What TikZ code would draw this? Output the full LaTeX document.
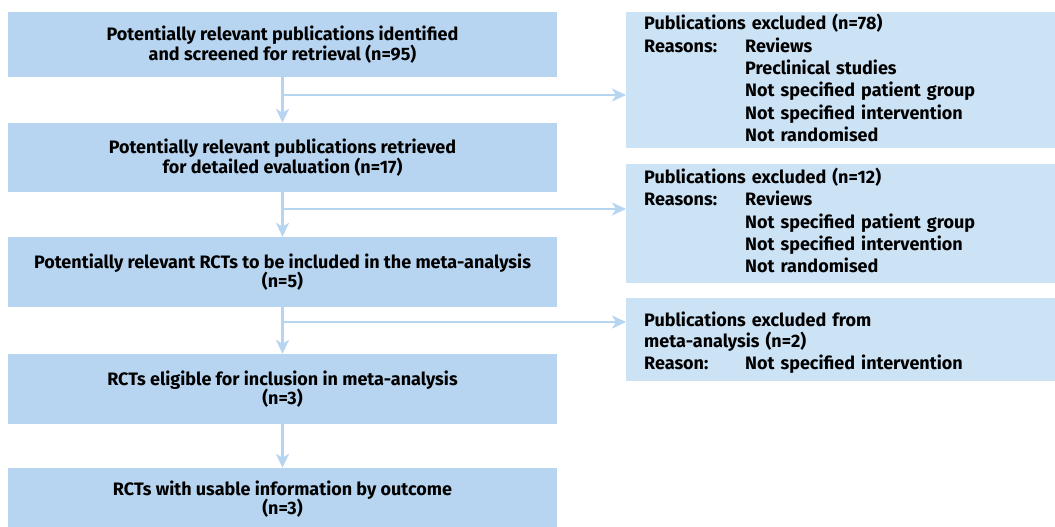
\documentclass[tikz,border=0pt]{standalone}
\usepackage{fontspec}
\setmainfont{Fira Sans}
\usepackage{tikz}
\usetikzlibrary{arrows.meta, positioning}
\definecolor{stepblue}{HTML}{B7D5F0}
\definecolor{exblue}{HTML}{CCE2F5}

\begin{document}
\begin{tikzpicture}[x=1pt, y=-1pt,
    stepbox/.style={fill=stepblue, minimum width=549pt, inner sep=0pt, align=center,
        font=\bfseries\fontsize{18}{19.5}\selectfont},
    exbox/.style={fill=exblue, anchor=north west, minimum width=429pt, text width=393pt,
        inner xsep=18pt, inner ysep=0pt, align=left,
        font=\bfseries\fontsize{18}{22.3}\selectfont},
    arr/.style={draw=stepblue, line width=2.5pt, -{Stealth[length=14pt, width=13pt, inset=4pt]}}]
    \useasboundingbox (0,0) rectangle (1055,527);

    % 1. Main steps
    \node[stepbox, minimum height=65pt] (s1) at (282.5,44.5)
        {Potentially relevant publications identified\\and screened for retrieval (n=95)};
    \node[stepbox, minimum height=69pt] (s2) at (282.5,157.5)
        {Potentially relevant publications retrieved\\for detailed evaluation (n=17)};
    \node[stepbox, minimum height=70pt] (s3) at (282.5,272)
        {Potentially relevant RCTs to be included in the meta-analysis\\(n=5)};
    \node[stepbox, minimum height=70pt] (s4) at (282.5,389)
        {RCTs eligible for inclusion in meta-analysis\\(n=3)};
    \node[stepbox, minimum height=62pt] (s5) at (282.5,499)
        {RCTs with usable information by outcome\\(n=3)};

    % 2. Exclusions
    \node[exbox, minimum height=136pt] (e1) at (626,12) {%
        \begin{tabular}{@{}p{101pt}@{}l@{}}
            \multicolumn{2}{@{}l@{}}{\rule{0pt}{17.6pt}Publications excluded (n=78)}\\
            Reasons: & Reviews\\
                     & Preclinical studies\\
                     & Not specified patient group\\
                     & Not specified intervention\\
                     & Not randomised
        \end{tabular}};
    \node[exbox, minimum height=119pt] (e2) at (626,164) {%
        \begin{tabular}{@{}p{101pt}@{}l@{}}
            \multicolumn{2}{@{}l@{}}{Publications excluded (n=12)}\\
            Reasons: & Reviews\\
                     & Not specified patient group\\
                     & Not specified intervention\\
                     & Not randomised
        \end{tabular}};
    \node[exbox, minimum height=83pt] (e3) at (626,298) {%
        \begin{tabular}{@{}p{101pt}@{}l@{}}
            \multicolumn{2}{@{}l@{}}{\rule{0pt}{23.6pt}Publications excluded from}\\[-2pt]
            \multicolumn{2}{@{}l@{}}{meta-analysis (n=2)}\\
            Reason: & Not specified intervention
        \end{tabular}};

    % 3. Arrows
    \draw[arr] (s1) -- (s2);
    \draw[arr] (s2) -- (s3);
    \draw[arr] (s3) -- (s4);
    \draw[arr] (s4) -- (s5);
    \coordinate (b1) at (282.5,95);
    \coordinate (b2) at (282.5,209);
    \coordinate (b3) at (282.5,322);
    \draw[arr] (b1) -- (b1 -| e1.west);
    \draw[arr] (b2) -- (b2 -| e2.west);
    \draw[arr] (b3) -- (b3 -| e3.west);
\end{tikzpicture}
\end{document}
